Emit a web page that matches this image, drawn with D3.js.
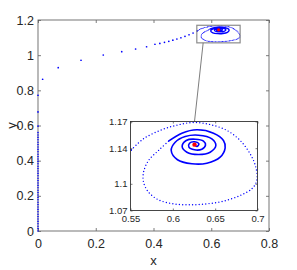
<!DOCTYPE html>
<html>
<head>
<meta charset="utf-8">
<script src="https://cdn.jsdelivr.net/npm/d3@7"></script>
<style>
body { margin: 0; background: #fff; }
text { font-family: "Liberation Sans Narrow", "Liberation Sans", Arial, sans-serif; fill: #262626; }
</style>
</head>
<body>
<svg id="chart" width="297" height="270"></svg>
<script>
// tick values
const xTicks = [0, 0.2, 0.4, 0.6, 0.8];
const yTicks = [0, 0.2, 0.4, 0.6, 0.8, 1, 1.2];
const insetXTicks = [0.55, 0.6, 0.65, 0.7];
const insetYTicks = [1.07, 1.1, 1.14, 1.17];

// climb along the y axis (dense samples)
const climbX = [0, 0, 0];
const climbY = [0, 0.3, 0.56];

// sparse samples of the sweep towards the equilibrium
const sweepX = [0, 0, 0, 0.016, 0.070, 0.149, 0.226, 0.290, 0.338, 0.376,
    0.405, 0.422, 0.438, 0.453, 0.467, 0.481, 0.495, 0.509, 0.523, 0.537, 0.551];
const sweepY = [0.597, 0.677, 0.772, 0.863, 0.929, 0.971, 1.001, 1.020, 1.035, 1.048,
    1.062, 1.067, 1.073, 1.079, 1.085, 1.092, 1.099, 1.107, 1.116, 1.126, 1.138];

// big outer loop (dotted)
const loopX = [0.551, 0.5654, 0.585, 0.6048, 0.6244, 0.644, 0.6638, 0.6795, 0.6913, 0.698,
    0.6992, 0.6933, 0.6795, 0.6598, 0.6402, 0.6205, 0.6008, 0.583, 0.5713, 0.5654,
    0.5654, 0.5713, 0.583, 0.5949];
const loopY = [1.138, 1.1506, 1.160, 1.1659, 1.1689, 1.1666, 1.160, 1.1487, 1.1337, 1.1187,
    1.1037, 1.0944, 1.0869, 1.0805, 1.0775, 1.0764, 1.0775, 1.082, 1.0906, 1.1018,
    1.113, 1.1262, 1.1374, 1.1479];

// inner spiral (dense, looks solid)
const spiralX = [0.5949, 0.6107, 0.6284, 0.648, 0.6598, 0.6618, 0.6559, 0.6402, 0.6225, 0.6055,
    0.5981, 0.6028, 0.6146, 0.6303, 0.6461, 0.6508, 0.6441, 0.6303, 0.6166, 0.611,
    0.6158, 0.6264, 0.6362, 0.6386, 0.6343, 0.6256, 0.619, 0.6197, 0.6256, 0.6308, 0.6284, 0.6256];
const spiralY = [1.1479, 1.1569, 1.1607, 1.1569, 1.1487, 1.1404, 1.1299, 1.1231, 1.1225, 1.127,
    1.1374, 1.1467, 1.1531, 1.1546, 1.1506, 1.143, 1.1355, 1.1329, 1.1355, 1.1419,
    1.1487, 1.1501, 1.1479, 1.1434, 1.1389, 1.1382, 1.1411, 1.1456, 1.1472, 1.1449, 1.1419, 1.144];

// equilibrium
const eqX = [0.6256];
const eqY = [1.144];

// zoom window and connector
const zoomX = [0.55, 0.7];
const zoomY = [1.07, 1.17];
const connectFrom = [0.572, 1.07];
const connectTo = [0.6256, 1.17];

const svg = d3.select('#chart');

const x = d3.scaleLinear().domain([0, 0.8]).range([38, 269]);
const y = d3.scaleLinear().domain([0, 1.2]).range([231, 20]);
const ix = d3.scaleLinear().domain(zoomX).range([130.5, 257.5]);
const iy = d3.scaleLinear().domain(zoomY).range([210.5, 121.5]);

const pts = (xs, ys) => xs.map((v, i) => [v, ys[i]]);
const fmt = d => String(d);

const drawTrajectory = (g, sx, sy, o) => {
    const line = d3.line().x(d => sx(d[0])).y(d => sy(d[1])).curve(d3.curveCatmullRom.alpha(0.5));

    if (o.climb) {
        const straight = d3.line().x(d => sx(d[0])).y(d => sy(d[1]));
        g.append('path')
            .attr('d', straight(pts(climbX, climbY)))
            .attr('fill', 'none').attr('stroke', '#0000ff')
            .attr('stroke-width', 1.6).attr('stroke-linecap', 'round')
            .attr('stroke-dasharray', '0,2.4');
    }

    g.selectAll(null)
        .data(pts(sweepX, sweepY))
        .enter().append('circle')
        .attr('cx', d => sx(d[0])).attr('cy', d => sy(d[1]))
        .attr('r', o.dot).attr('fill', '#0000ff');

    g.append('path')
        .attr('d', line(pts(loopX, loopY)))
        .attr('fill', 'none').attr('stroke', '#0000ff')
        .attr('stroke-width', o.loopW).attr('stroke-linecap', 'round')
        .attr('stroke-dasharray', o.loopDash);

    g.append('path')
        .attr('d', line(pts(spiralX, spiralY)))
        .attr('fill', 'none').attr('stroke', '#0000ff')
        .attr('stroke-width', o.spiralW);

    g.selectAll(null)
        .data(pts(eqX, eqY))
        .enter().append('circle')
        .attr('cx', d => sx(d[0])).attr('cy', d => sy(d[1]))
        .attr('r', o.eqR).attr('fill', '#ff0000');
};

const drawFrame = (g, sx, sy, xt, yt, o) => {
    const [x0, x1] = sx.range();
    const [y0, y1] = sy.range();

    const bottom = g.append('g').attr('transform', `translate(0,${y0})`)
        .call(d3.axisBottom(sx).tickValues(xt).tickFormat(fmt)
            .tickSizeInner(-o.tick).tickSizeOuter(0).tickPadding(o.xPad));
    const left = g.append('g').attr('transform', `translate(${x0},0)`)
        .call(d3.axisLeft(sy).tickValues(yt).tickFormat(fmt)
            .tickSizeInner(-o.tick).tickSizeOuter(0).tickPadding(o.yPad));
    const top = g.append('g').attr('transform', `translate(0,${y1})`)
        .call(d3.axisTop(sx).tickValues(xt).tickFormat('')
            .tickSizeInner(-o.tick).tickSizeOuter(0));
    const right = g.append('g').attr('transform', `translate(${x1},0)`)
        .call(d3.axisRight(sy).tickValues(yt).tickFormat('')
            .tickSizeInner(-o.tick).tickSizeOuter(0));

    [bottom, left, top, right].forEach(a => {
        a.select('.domain').remove();
        a.selectAll('line').attr('stroke', '#262626').attr('stroke-width', 0.6);
        a.selectAll('text').attr('font-size', o.font).attr('font-family', null).attr('fill', '#262626');
    });

    g.append('rect')
        .attr('x', x0).attr('y', y1)
        .attr('width', x1 - x0).attr('height', y0 - y1)
        .attr('fill', 'none').attr('stroke', o.box).attr('stroke-width', 0.9);
};

// main axes
const main = svg.append('g');
drawFrame(main, x, y, xTicks, yTicks, { tick: 3, xPad: 8, yPad: 4, font: 12.5, box: '#666' });

const mainPlot = main.append('g');
drawTrajectory(mainPlot, x, y, { climb: true, dot: 0.85, loopW: 1.1, loopDash: '0,1.4', spiralW: 1.4, eqR: 1.6 });

// zoom window on the main axes
main.append('rect')
    .attr('x', x(zoomX[0])).attr('y', y(zoomY[1]))
    .attr('width', x(zoomX[1]) - x(zoomX[0])).attr('height', y(zoomY[0]) - y(zoomY[1]))
    .attr('fill', 'none').attr('stroke', '#8c8c8c').attr('stroke-width', 1.2);

// connector line
main.append('line')
    .attr('x1', x(connectFrom[0])).attr('y1', y(connectFrom[1]))
    .attr('x2', ix(connectTo[0])).attr('y2', iy(connectTo[1]))
    .attr('stroke', '#6e6e6e').attr('stroke-width', 0.9);

main.append('text')
    .attr('x', (x.range()[0] + x.range()[1]) / 2).attr('y', 265)
    .attr('text-anchor', 'middle').attr('font-size', 13).text('x');
main.append('text')
    .attr('transform', `translate(16,${(y.range()[0] + y.range()[1]) / 2}) rotate(-90)`)
    .attr('text-anchor', 'middle').attr('font-size', 13).text('y');

// inset axes
const inset = svg.append('g');
inset.append('rect')
    .attr('x', ix.range()[0]).attr('y', iy.range()[1])
    .attr('width', ix.range()[1] - ix.range()[0]).attr('height', iy.range()[0] - iy.range()[1])
    .attr('fill', '#fff');

svg.append('clipPath').attr('id', 'inset-clip')
    .append('rect')
    .attr('x', ix.range()[0]).attr('y', iy.range()[1])
    .attr('width', ix.range()[1] - ix.range()[0]).attr('height', iy.range()[0] - iy.range()[1]);

const insetPlot = inset.append('g').attr('clip-path', 'url(#inset-clip)');
drawTrajectory(insetPlot, ix, iy, { climb: false, dot: 0.8, loopW: 1.4, loopDash: '0,3.3', spiralW: 1.6, eqR: 2.2 });

drawFrame(inset, ix, iy, insetXTicks, insetYTicks, { tick: 2, xPad: 5, yPad: 3, font: 9.5, box: '#333' });
</script>
</body>
</html>
